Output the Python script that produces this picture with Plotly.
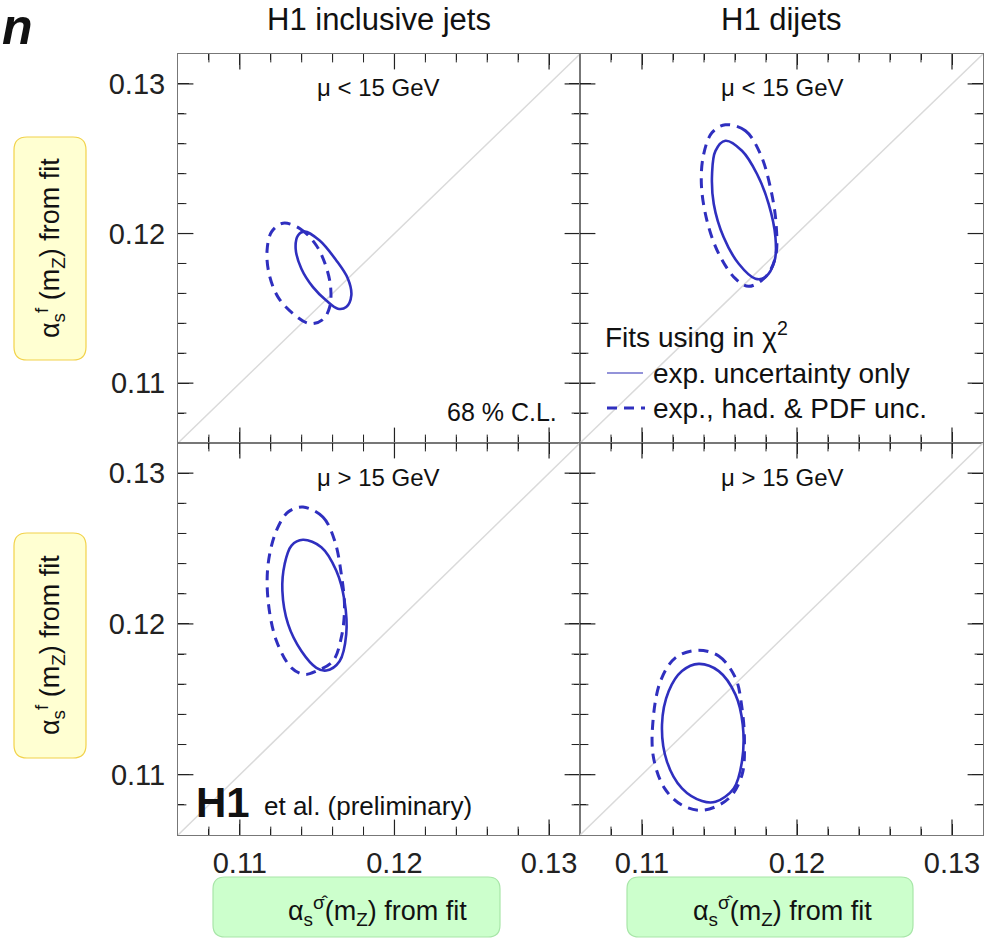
import plotly.graph_objects as go

# ---------------- data ----------------
panel_titles = ["H1 inclusive jets", "H1 dijets"]
scale_labels = ["μ &lt; 15 GeV", "μ &lt; 15 GeV", "μ &gt; 15 GeV", "μ &gt; 15 GeV"]
tick_vals = [0.11, 0.12, 0.13]
tick_text = ["0.11", "0.12", "0.13"]
minor_vals = [0.108, 0.112, 0.114, 0.116, 0.118, 0.122, 0.124, 0.126, 0.128]
axis_range = [0.106, 0.132]
diag = [0.106, 0.132]

# inclusive jets, mu < 15 GeV
incl_low_exp_x = [0.11419, 0.11516, 0.11624, 0.11699, 0.11721, 0.11688, 0.11634, 0.11559, 0.11473, 0.11398, 0.11361, 0.11376]
incl_low_exp_y = [0.12013, 0.11953, 0.11820, 0.11698, 0.11587, 0.11509, 0.11498, 0.11553, 0.11642, 0.11765, 0.11898, 0.11987]
incl_low_tot_x = [0.11279, 0.11392, 0.11495, 0.11555, 0.11587, 0.11581, 0.11537, 0.11452, 0.11344, 0.11247, 0.11189, 0.11176, 0.11205]
incl_low_tot_y = [0.12069, 0.12031, 0.11920, 0.11787, 0.11642, 0.11509, 0.11425, 0.11398, 0.11465, 0.11575, 0.11731, 0.11887, 0.12011]
# dijets, mu < 15 GeV
dij_low_exp_x = [0.11538, 0.11645, 0.11742, 0.11817, 0.11861, 0.11856, 0.11796, 0.11732, 0.11624, 0.11527, 0.11463, 0.11452, 0.11474]
dij_low_exp_y = [0.12620, 0.12553, 0.12398, 0.12198, 0.11975, 0.11820, 0.11709, 0.11698, 0.11798, 0.11975, 0.12198, 0.12398, 0.12553]
dij_low_tot_x = [0.11538, 0.11667, 0.11764, 0.11828, 0.11865, 0.11861, 0.11796, 0.11688, 0.11603, 0.11495, 0.11419, 0.11383, 0.11398, 0.11452]
dij_low_tot_y = [0.12727, 0.12687, 0.12531, 0.12309, 0.12065, 0.11842, 0.11709, 0.11647, 0.11698, 0.11865, 0.12087, 0.12331, 0.12531, 0.12675]
# inclusive jets, mu > 15 GeV
incl_high_exp_x = [0.11408, 0.11527, 0.11624, 0.11677, 0.11688, 0.11645, 0.11559, 0.11495, 0.11398, 0.11312, 0.11275, 0.11290, 0.11334]
incl_high_exp_y = [0.12558, 0.12509, 0.12353, 0.12153, 0.11931, 0.11753, 0.11691, 0.11709, 0.11820, 0.11998, 0.12220, 0.12398, 0.12520]
incl_high_tot_x = [0.11408, 0.11537, 0.11613, 0.11656, 0.11677, 0.11656, 0.11602, 0.11495, 0.11419, 0.11334, 0.11237, 0.11183, 0.11183, 0.11237, 0.11312]
incl_high_tot_y = [0.12775, 0.12709, 0.12553, 0.12331, 0.12109, 0.11909, 0.11753, 0.11687, 0.11665, 0.11709, 0.11887, 0.12153, 0.12398, 0.12620, 0.12742]
# dijets, mu > 15 GeV
dij_high_exp_x = [0.11366, 0.11495, 0.11603, 0.11650, 0.11645, 0.11592, 0.11474, 0.11387, 0.11258, 0.11161, 0.11129, 0.11172, 0.11258]
dij_high_exp_y = [0.11735, 0.11687, 0.11531, 0.11331, 0.11087, 0.10909, 0.10820, 0.10825, 0.10909, 0.11087, 0.11331, 0.11553, 0.11687]
dij_high_tot_x = [0.11355, 0.11495, 0.11603, 0.11645, 0.11661, 0.11645, 0.11559, 0.11398, 0.11258, 0.11146, 0.11075, 0.11069, 0.11119, 0.11215]
dij_high_tot_y = [0.11825, 0.11787, 0.11642, 0.11442, 0.11220, 0.10998, 0.10842, 0.10765, 0.10798, 0.10909, 0.11109, 0.11331, 0.11620, 0.11775]

panels = [
    (incl_low_exp_x, incl_low_exp_y, incl_low_tot_x, incl_low_tot_y),
    (dij_low_exp_x, dij_low_exp_y, dij_low_tot_x, dij_low_tot_y),
    (incl_high_exp_x, incl_high_exp_y, incl_high_tot_x, incl_high_tot_y),
    (dij_high_exp_x, dij_high_exp_y, dij_high_tot_x, dij_high_tot_y),
]

# ---------------- layout helpers ----------------
W, H = 988, 938
def PX(p): return p / W
def PY(p): return 1 - p / H

FONT = "Liberation Sans, Arial, Helvetica, sans-serif"
BLUE = "#2f2fbf"
TXT = "#111111"
TICKC = "#222222"
MAJ_LEN, MIN_LEN = 11, 6

x_doms = [[PX(178), PX(580)], [PX(580), PX(983)]]
y_doms = [[PY(443), PY(54)], [PY(835), PY(443)]]

fig = go.Figure()
axis_ids = ["", "2", "3", "4"]


def tick_marks(xa, ya, vals, length, width):
    """Tick marks on all four frame sides, as line markers clipped to the plot area
    (half of each marker lies outside and is clipped, leaving an inside tick)."""
    lo, hi = axis_range
    n = len(vals)
    # bottom and top edges (vertical marks)
    fig.add_trace(go.Scatter(x=vals + vals, y=[lo] * n + [hi] * n, mode="markers",
                             xaxis=xa, yaxis=ya, cliponaxis=True, showlegend=False, hoverinfo="none",
                             marker=dict(symbol="line-ns", size=2 * length,
                                         line=dict(width=width, color=TICKC))))
    # left and right edges (horizontal marks)
    fig.add_trace(go.Scatter(x=[lo] * n + [hi] * n, y=vals + vals, mode="markers",
                             xaxis=xa, yaxis=ya, cliponaxis=True, showlegend=False, hoverinfo="none",
                             marker=dict(symbol="line-ew", size=2 * length,
                                         line=dict(width=width, color=TICKC))))


for i, (ex, ey, tx, ty) in enumerate(panels):
    aid = axis_ids[i]
    xa, ya = "x" + aid, "y" + aid
    fig.add_trace(go.Scatter(x=diag, y=diag, mode="lines", xaxis=xa, yaxis=ya,
                             line=dict(color="#dadada", width=1.5), showlegend=False))
    fig.add_trace(go.Scatter(x=tx + tx[:1], y=ty + ty[:1], mode="lines", xaxis=xa, yaxis=ya,
                             line=dict(color=BLUE, width=3, dash="10px,7px", shape="spline"),
                             showlegend=False))
    fig.add_trace(go.Scatter(x=ex + ex[:1], y=ey + ey[:1], mode="lines", xaxis=xa, yaxis=ya,
                             line=dict(color=BLUE, width=2.6, shape="spline"),
                             showlegend=False))
    tick_marks(xa, ya, tick_vals, MAJ_LEN, 1.2)
    tick_marks(xa, ya, minor_vals, MIN_LEN, 1.0)

layout = dict(width=W, height=H, margin=dict(l=0, r=0, t=0, b=0),
              paper_bgcolor="white", plot_bgcolor="rgba(0,0,0,0)", showlegend=False,
              font=dict(family=FONT, color=TXT), hovermode=False)

for i in range(4):
    aid = axis_ids[i]
    col, row = i % 2, i // 2
    common = dict(range=axis_range, tickmode="array", tickvals=tick_vals, ticktext=tick_text,
                  ticks="inside", ticklen=MAJ_LEN, tickwidth=1.2, tickcolor=TICKC,
                  showline=True, linecolor="#777", linewidth=1, mirror="ticks",
                  showgrid=False, zeroline=False, layer="above traces",
                  tickfont=dict(size=29, family=FONT, color="#222"),
                  minor=dict(tickmode="array", tickvals=minor_vals, ticks="inside",
                             ticklen=MIN_LEN, tickwidth=1, tickcolor=TICKC, showgrid=False))
    layout["xaxis" + aid] = dict(common, domain=x_doms[col], anchor="y" + aid,
                                 showticklabels=(row == 1), ticklabelstandoff=2)
    layout["yaxis" + aid] = dict(common, domain=y_doms[row], anchor="x" + aid,
                                 showticklabels=(col == 0), ticklabelstandoff=6)

fig.update_layout(**layout)

def rrect(x0, y0, x1, y1, r, fill, line):
    rx, ry = r / W, r / H
    a, b, c, d = PX(x0), PX(x1), PY(y0), PY(y1)  # c top, d bottom
    path = (f"M {a+rx:.5f},{c:.5f} L {b-rx:.5f},{c:.5f} Q {b:.5f},{c:.5f} {b:.5f},{c-ry:.5f} "
            f"L {b:.5f},{d+ry:.5f} Q {b:.5f},{d:.5f} {b-rx:.5f},{d:.5f} "
            f"L {a+rx:.5f},{d:.5f} Q {a:.5f},{d:.5f} {a:.5f},{d+ry:.5f} "
            f"L {a:.5f},{c-ry:.5f} Q {a:.5f},{c:.5f} {a+rx:.5f},{c:.5f} Z")
    return dict(type="path", xref="paper", yref="paper", path=path,
                fillcolor=fill, line=dict(color=line, width=1.2), layer="above")

shapes = [
    rrect(14, 137, 86, 360, 13, "#ffffd2", "#f2d24a"),
    rrect(14, 533, 86, 758, 13, "#ffffd2", "#f2d24a"),
    rrect(213, 877, 500, 937, 12, "#ccffcc", "#a8e6a8"),
    rrect(627, 877, 913, 937, 12, "#ccffcc", "#a8e6a8"),
    dict(type="line", xref="paper", yref="paper", x0=PX(607), x1=PX(643), y0=PY(373), y1=PY(373),
         line=dict(color="#6f6fcc", width=1.5)),
    dict(type="line", xref="paper", yref="paper", x0=PX(607), x1=PX(645), y0=PY(408), y1=PY(408),
         line=dict(color=BLUE, width=3, dash="10px,7px")),
]
fig.update_layout(shapes=shapes)

def ann(text, x, y, size, xanchor="center", yanchor="middle", angle=0, color=TXT):
    return dict(text=text, x=PX(x), y=PY(y), xref="paper", yref="paper", showarrow=False,
                xanchor=xanchor, yanchor=yanchor, textangle=angle,
                font=dict(size=size, family=FONT, color=color))

yt = "α<sub>s</sub><sup>f</sup> (m<sub>Z</sub>) from fit"
xt = "α<sub>s</sub><sup>σ̂</sup>(m<sub>Z</sub>) from fit"
annotations = [
    ann("<b><i>n</i></b>", 0, 27, 50, xanchor="left"),
    ann(panel_titles[0], 379, 20, 31),
    ann(panel_titles[1], 781, 20, 31),
    ann(scale_labels[0], 378, 87, 24),
    ann(scale_labels[1], 782, 87, 24),
    ann(scale_labels[2], 378, 477, 24),
    ann(scale_labels[3], 782, 477, 24),
    ann("68 % C.L.", 559, 412, 25, xanchor="right"),
    ann("Fits using in χ<sup>2</sup>", 603, 335, 28, xanchor="left"),
    ann("exp. uncertainty only", 651, 373, 28, xanchor="left"),
    ann("exp., had. &amp; PDF unc.", 651, 408, 28, xanchor="left"),
    ann("<b>H1</b>", 194, 802, 42, xanchor="left"),
    ann("et al. (preliminary)", 262, 806, 26, xanchor="left"),
    ann(yt, 50, 248, 27, angle=-90),
    ann(yt, 50, 645, 27, angle=-90),
    ann(xt, 377, 911, 27),
    ann(xt, 782, 911, 27),
]
fig.update_layout(annotations=annotations)

fig.write_html("out.html", config={"displayModeBar": False},
               post_script="document.body.style.margin='0px';")
